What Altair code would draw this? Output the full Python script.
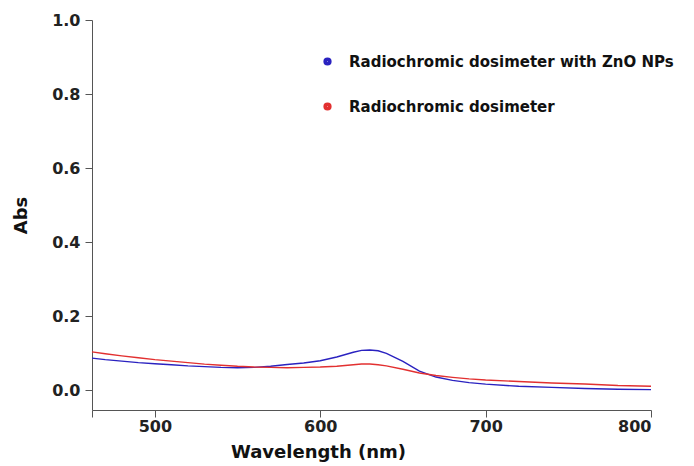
import altair as alt
import pandas as pd

wavelength = [462, 470, 480, 490, 500, 510, 520, 530, 540, 550, 560, 570, 580, 590,
              600, 610, 620, 625, 630, 635, 640, 650, 660, 670, 680, 690, 700, 720,
              740, 760, 780, 800]
abs_zno = [0.087, 0.083, 0.079, 0.075, 0.072, 0.069, 0.066, 0.064, 0.062, 0.061, 0.062,
           0.065, 0.070, 0.074, 0.080, 0.090, 0.103, 0.108, 0.109, 0.107, 0.100, 0.078,
           0.052, 0.036, 0.027, 0.021, 0.017, 0.011, 0.008, 0.005, 0.003, 0.002]
abs_plain = [0.104, 0.099, 0.093, 0.088, 0.083, 0.079, 0.075, 0.071, 0.068, 0.065, 0.063,
             0.062, 0.061, 0.062, 0.063, 0.065, 0.069, 0.071, 0.071, 0.069, 0.066, 0.057,
             0.047, 0.040, 0.035, 0.031, 0.028, 0.024, 0.020, 0.017, 0.013, 0.011]
series = ["Radiochromic dosimeter with ZnO NPs", "Radiochromic dosimeter"]
colors = ["#2a22c0", "#e23030"]

rows = []
for w, a in zip(wavelength, abs_zno):
    rows.append({"wl": w, "abs": a, "series": series[0]})
for w, a in zip(wavelength, abs_plain):
    rows.append({"wl": w, "abs": a, "series": series[1]})
df = pd.DataFrame(rows)

font = "DejaVu Sans"

chart = alt.Chart(df).mark_line(strokeWidth=1.4).encode(
    x=alt.X("wl:Q",
            scale=alt.Scale(domain=[462, 800], nice=False, zero=False),
            axis=alt.Axis(values=[462, 500, 600, 700, 800],
                          labelExpr="datum.value < 480 ? '' : datum.label",
                          title="Wavelength (nm)", grid=False,
                          titleX=226, titleAnchor="start", titleAlign="center",
                          titlePadding=9, labelPadding=1)),
    y=alt.Y("abs:Q",
            scale=alt.Scale(domain=[-0.053, 1.0], nice=False, zero=False),
            axis=alt.Axis(values=[0.0, 0.2, 0.4, 0.6, 0.8, 1.0], format=".1f",
                          title="Abs", grid=False, titlePadding=21, labelPadding=5)),
    color=alt.Color("series:N",
                    scale=alt.Scale(domain=series, range=colors),
                    legend=alt.Legend(title=None, orient="none", legendX=228, legendY=34,
                                      symbolType="circle",
                                      symbolSize=14, symbolStrokeWidth=4.5,
                                      labelFont=font, labelFontWeight="bold",
                                      labelFontSize=15, labelColor="#111",
                                      labelLimit=500, labelOffset=14, rowPadding=22)),
    detail="series:N",
).properties(
    width=559, height=390,
    autosize=alt.AutoSizeParams(type="none"),
    padding={"left": 92, "top": 20, "right": 43, "bottom": 56},
).configure_view(
    stroke=None
).configure_axis(
    labelFont=font, labelFontWeight="bold", labelFontSize=16, labelColor="#222",
    titleFont=font, titleFontWeight="bold", titleFontSize=18, titleColor="#111",
    domainColor="#555", tickColor="#555", tickSize=7,
)

chart.save("out.html", embed_options={"renderer": "svg", "actions": False})
